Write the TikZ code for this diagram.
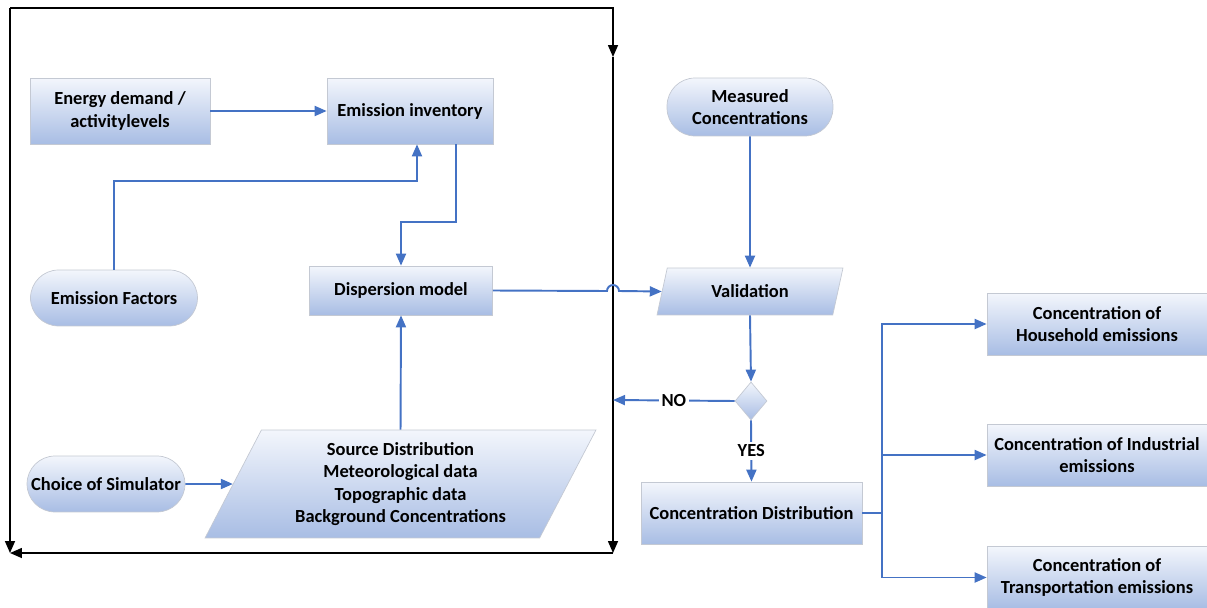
\documentclass[tikz,border=0pt]{standalone}
\usepackage{fontspec}
\setmainfont{Carlito}
\usetikzlibrary{positioning,shapes.geometric,arrows.meta}
\definecolor{lineBlue}{RGB}{68,114,196}
\definecolor{boxTop}{RGB}{243,246,252}
\definecolor{boxBottom}{RGB}{168,189,228}
\definecolor{boxBorder}{RGB}{196,201,211}
\tikzstyle{pixels} = [x = 0.02cm, y = -0.02cm]
\tikzstyle{flowBox} = [draw=boxBorder, top color=boxTop, bottom color=boxBottom, align=center, inner sep=0pt, font=\fontsize{10.5}{12.8}\selectfont\bfseries]
\tikzstyle{termBox} = [flowBox, rounded corners=0.56cm]
\tikzstyle{dataBox} = [flowBox, trapezium, trapezium stretches body]
\tikzstyle{linkStyle} = [draw=lineBlue, line width=1.1pt, -{Triangle[length=0.24cm, width=0.2cm]}]
\tikzstyle{frameStyle} = [draw=black, line width=0.9pt, -{Triangle[length=0.24cm, width=0.2cm]}]
\tikzstyle{edgeLabel} = [fill=white, inner sep=1.5pt, font=\fontsize{10.5}{12.8}\selectfont\bfseries]
\newcommand{\processBox}[5]{\node [flowBox, minimum width=#3cm, minimum height=#4cm] (#1) at (#2) {#5};}
\newcommand{\terminalBox}[5]{\node [termBox, minimum width=#3cm, minimum height=#4cm] (#1) at (#2) {#5};}

\begin{document}
\begin{tikzpicture}[pixels]
  \useasboundingbox (0,0) rectangle (1207,608);

  % outer loop frame
  \coordinate (frameTL) at (10,8);
  \coordinate (frameTR) at (613,8);
  \coordinate (frameMid) at (613,57);
  \coordinate (frameBR) at (613,553);
  \coordinate (frameBL) at (10,553);
  \coordinate (noEnd) at (613,400);
  \draw [frameStyle] (frameTL) -- (frameBL);
  \draw [frameStyle] (frameTL) -- (frameTR) -- (frameMid);
  \draw [frameStyle] (frameMid) -- (frameBR);
  \draw [frameStyle] (frameBR) -- (frameBL);

  % left part
  \processBox{energyDemand}{120,111}{3.6}{1.32}{Energy demand /\\activitylevels}
  \processBox{emissionInventory}{410,111}{3.32}{1.32}{Emission inventory}
  \terminalBox{emissionFactors}{114,298}{3.34}{1.12}{Emission Factors}
  \processBox{dispersionModel}{401,290.5}{3.66}{0.98}{Dispersion model}
  \terminalBox{choiceSim}{106,484}{3.16}{1.12}{Choice of Simulator}
  \node [dataBox, trapezium left angle=56, trapezium right angle=124, minimum width=7.82cm, minimum height=2.16cm] (sourceData) at (400.5,484)
    {Source Distribution\\Meteorological data\\Topographic data\\Background Concentrations};

  % right part
  \terminalBox{measured}{750,107}{3.32}{1.16}{Measured\\Concentrations}
  \node [dataBox, trapezium left angle=52, trapezium right angle=128, minimum width=3.72cm, minimum height=0.94cm] (validation) at (750,291.5) {Validation};
  \node [flowBox, diamond, minimum width=0.64cm, minimum height=0.76cm] (decision) at (751,401) {};
  \processBox{concDist}{751.5,513}{4.42}{1.24}{Concentration Distribution}
  \processBox{household}{1097,324}{4.4}{1.24}{Concentration of\\Household emissions}
  \processBox{industrial}{1097,455}{4.4}{1.24}{Concentration of Industrial\\emissions}
  \processBox{transport}{1097,577.5}{4.4}{1.24}{Concentration of\\Transportation emissions}

  % connectors
  \draw [linkStyle] (energyDemand.east) -- (emissionInventory.west);
  \draw [linkStyle] (emissionFactors.north) -- ++(0,-89) -| ([xshift=0.14cm]emissionInventory.south);
  \draw [linkStyle] ([xshift=0.92cm]emissionInventory.south) -- ++(0,78) -| (dispersionModel.north);
  \draw [linkStyle] (sourceData.north) -- (dispersionModel.south);
  \draw [linkStyle] (choiceSim.east) -- (sourceData.west);
  \coordinate (hopStart) at (607,291);
  \draw [linkStyle] (dispersionModel.east) -- (hopStart) arc [start angle=180, end angle=0, radius=0.12cm] -- (validation.west);
  \draw [linkStyle] (measured.south) -- (validation.north);
  \draw [linkStyle] (validation.south) -- (decision.north);
  \draw [linkStyle] (decision.west) -- node [edgeLabel] {NO} (noEnd);
  \draw [linkStyle] (decision.south) -- node [edgeLabel] {YES} (concDist.north);
  \draw [draw=lineBlue, line width=1.1pt] (concDist.east) -- ++(20,0) coordinate (branch);
  \draw [linkStyle] (branch) |- (household.west);
  \draw [linkStyle] (branch) |- (industrial.west);
  \draw [linkStyle] (branch) |- (transport.west);
\end{tikzpicture}
\end{document}
